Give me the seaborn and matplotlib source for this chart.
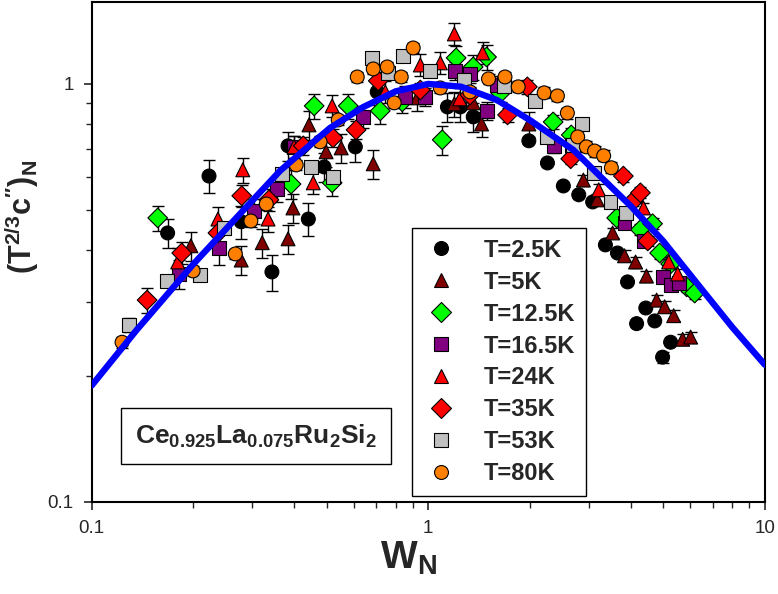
import numpy as np
import pandas as pd
import matplotlib
matplotlib.use("Agg")
import matplotlib.pyplot as plt
from matplotlib.lines import Line2D
from matplotlib.ticker import FixedLocator, FixedFormatter, LogLocator, NullFormatter
import seaborn as sns

# ---------------- data ----------------
labels = ["T=2.5K", "T=5K", "T=12.5K", "T=16.5K", "T=24K", "T=35K", "T=53K", "T=80K"]
colors = ["#000000", "#800000", "#00FF00", "#800080", "#FF0000", "#FF0000", "#C0C0C0", "#FF8000"]
markers = ["o", "^", "D", "s", "^", "D", "s", "o"]

w_2p5 = [0.168, 0.223, 0.278, 0.343, 0.383, 0.44, 0.49, 0.607, 0.705, 1.14, 1.245, 1.36, 1.99, 2.26,
         2.52, 2.80, 3.08, 3.36, 3.65, 3.91, 4.16, 4.43, 4.71, 4.97, 5.25]
v_2p5 = [0.44, 0.602, 0.468, 0.355, 0.711, 0.475, 0.633, 0.707, 0.957, 0.881, 0.881, 0.834, 0.731, 0.647,
         0.570, 0.543, 0.522, 0.412, 0.394, 0.336, 0.267, 0.291, 0.271, 0.222, 0.241]
e_2p5 = [0.08, 0.09, 0.09, 0.10, 0.08, 0.09, 0.08, 0.08, 0.07, 0.08, 0.08, 0.08, 0, 0,
         0, 0, 0, 0, 0, 0, 0, 0, 0, 0.03, 0]

w_5 = [0.197, 0.278, 0.321, 0.383, 0.396, 0.442, 0.497, 0.551, 0.686, 0.927, 1.195, 1.36, 1.44, 1.99,
       2.89, 3.18, 3.53, 3.83, 4.13, 4.45, 4.77, 5.04, 5.36, 5.70, 6.02]
v_5 = [0.41, 0.379, 0.417, 0.426, 0.505, 0.798, 0.688, 0.703, 0.644, 0.926, 0.896, 0.901, 0.802, 0.802,
       0.589, 0.528, 0.44, 0.388, 0.375, 0.347, 0.304, 0.293, 0.279, 0.245, 0.248]
e_5 = [0.08, 0.08, 0.08, 0.08, 0.08, 0.08, 0.08, 0.08, 0.08, 0.07, 0.07, 0.07, 0.07, 0.07,
       0.03, 0.03, 0.03, 0.03, 0.03, 0.03, 0.03, 0.03, 0.03, 0.03, 0.03]

w_12p5 = [0.157, 0.391, 0.458, 0.518, 0.578, 0.72, 0.837, 1.10, 1.21, 1.36, 1.49, 1.64, 2.35, 2.66,
          3.63, 4.27, 4.64, 4.87, 5.25, 5.86, 6.19]
v_12p5 = [0.478, 0.576, 0.886, 0.580, 0.886, 0.862, 0.906, 0.735, 1.154, 1.098, 1.16, 0.952, 0.811, 0.755,
          0.478, 0.448, 0.463, 0.394, 0.371, 0.327, 0.316]
e_12p5 = [0.07, 0.08, 0.07, 0.07, 0.07, 0.07, 0.06, 0.08, 0.07, 0.07, 0.07, 0.05, 0.04, 0.04,
          0.03, 0.03, 0.03, 0.03, 0.03, 0.03, 0.03]

w_16p5 = [0.182, 0.239, 0.303, 0.355, 0.399, 0.641, 0.854, 0.98, 1.20, 1.33, 1.49, 1.60, 2.37, 2.68,
          3.83, 4.36, 4.97, 5.25, 5.55]
v_16p5 = [0.351, 0.405, 0.497, 0.561, 0.707, 0.834, 0.931, 0.931, 1.074, 1.057, 0.862, 0.995, 0.711, 0.715,
          0.465, 0.421, 0.345, 0.330, 0.334]
e_16p5 = [0.08, 0.09, 0.07, 0.07, 0.06, 0.06, 0.06, 0.05, 0.05, 0.05, 0.05, 0.05, 0.04, 0.04,
          0.03, 0.03, 0.03, 0.03, 0.03]

w_24 = [0.180, 0.237, 0.281, 0.334, 0.399, 0.455, 0.518, 0.745, 0.947, 1.086, 1.195, 1.24, 1.45,
        3.21, 4.36, 5.18, 5.51]
v_24 = [0.375, 0.475, 0.623, 0.475, 0.707, 0.580, 0.886, 0.957, 1.11, 1.123, 1.317, 0.921, 1.186,
        0.558, 0.505, 0.375, 0.351]
e_24 = [0.08, 0.07, 0.07, 0.07, 0.06, 0.06, 0.06, 0.06, 0.06, 0.06, 0.06, 0.06, 0.06,
        0.03, 0.03, 0.03, 0.03]

w_35 = [0.146, 0.185, 0.237, 0.279, 0.336, 0.425, 0.521, 0.61, 0.71, 0.947, 1.33, 1.72, 1.97, 2.65,
        3.80, 4.07, 4.27, 4.49]
v_35 = [0.304, 0.394, 0.44, 0.54, 0.528, 0.711, 0.743, 0.776, 1.017, 0.967, 0.941, 0.843, 0.984, 0.662,
        0.602, 0.525, 0.549, 0.421]
e_35 = [0.07, 0.06, 0.06, 0.06, 0.06, 0.05, 0.05, 0.05, 0.05, 0.04, 0.04, 0.04, 0.04, 0.03,
        0.03, 0.03, 0.03, 0.03]

w_53 = [0.129, 0.167, 0.21, 0.247, 0.368, 0.449, 0.521, 0.681, 0.76, 0.843, 1.014, 1.28, 1.68, 2.07,
        2.26, 2.70, 2.87, 3.10, 3.48, 3.88]
v_53 = [0.265, 0.338, 0.349, 0.452, 0.609, 0.633, 0.599, 1.154, 1.063, 1.167, 1.074, 1.022, 0.989, 0.911,
        0.747, 0.715, 0.802, 0.612, 0.522, 0.491]
e_53 = [0.04, 0.03, 0.03, 0.03, 0.03, 0.03, 0.03, 0.03, 0.03, 0.03, 0.03, 0.03, 0.03, 0.03,
        0.03, 0.03, 0.03, 0.03, 0.03, 0.03]

w_80 = [0.123, 0.2, 0.267, 0.297, 0.33, 0.405, 0.477, 0.54, 0.615, 0.686, 0.755, 0.792, 0.831, 0.902,
        1.086, 1.33, 1.51, 1.69, 1.85, 2.21, 2.42, 2.59, 2.78, 2.95, 3.12, 3.32, 3.50]
v_80 = [0.241, 0.357, 0.392, 0.47, 0.516, 0.64, 0.727, 0.82, 1.039, 1.086, 1.098, 0.901, 1.039, 1.219,
        0.978, 0.957, 1.028, 1.039, 0.984, 0.952, 0.936, 0.852, 0.747, 0.707, 0.691, 0.673, 0.63]
e_80 = [0.03] * len(w_80)

# scaling curve
curve_w = [0.1, 0.136, 0.2, 0.27, 0.363, 0.45, 0.511, 0.64, 0.8, 1.0, 1.25, 1.6, 2.0, 2.7, 3.25,
           4.0, 5.0, 6.45, 8.0, 10.0]
curve_v = [0.19, 0.258, 0.37, 0.48, 0.62, 0.72, 0.785, 0.88, 0.96, 1.0, 0.985, 0.915, 0.82, 0.695, 0.60,
           0.51, 0.42, 0.325, 0.262, 0.213]

series_w = [w_2p5, w_5, w_12p5, w_16p5, w_24, w_35, w_53, w_80]
series_v = [v_2p5, v_5, v_12p5, v_16p5, v_24, v_35, v_53, v_80]
series_e = [e_2p5, e_5, e_12p5, e_16p5, e_24, e_35, e_53, e_80]

frames = []
for lab, w, v, e in zip(labels, series_w, series_v, series_e):
    frames.append(pd.DataFrame({"w": w, "v": v, "rel": e, "T": lab}))
df = pd.concat(frames, ignore_index=True)
df["err"] = df["v"] * df["rel"]

# ---------------- styling ----------------
sns.set_style("ticks")
plt.rcParams["font.family"] = ["Liberation Sans", "DejaVu Sans"]
plt.rcParams["mathtext.fontset"] = "custom"
plt.rcParams["mathtext.rm"] = "Liberation Sans"
plt.rcParams["mathtext.it"] = "Liberation Sans:italic"
plt.rcParams["mathtext.bf"] = "Liberation Sans:bold"

fig = plt.figure(figsize=(7.78, 5.94), dpi=100)
ax = fig.add_axes([0.118, 0.155, 0.865, 0.8416])

ax.set_xscale("log")
ax.set_yscale("log")

# error bars
for lab in labels:
    sub = df[df["T"] == lab]
    ax.errorbar(sub["w"], sub["v"], yerr=sub["err"], fmt="none", ecolor="black",
                elinewidth=1.0, capsize=4, capthick=1.0, zorder=1)

sns.scatterplot(data=df, x="w", y="v", hue="T", style="T", hue_order=labels, style_order=labels,
                palette=dict(zip(labels, colors)), markers=dict(zip(labels, markers)),
                s=100, edgecolor="black", linewidth=0.8, legend=False, ax=ax, zorder=2)

sns.lineplot(x=curve_w, y=curve_v, color="#0000FF", linewidth=4.6, ax=ax, zorder=3, sort=False)

ax.set_xlim(0.1, 10)
ax.set_ylim(0.1, 1.57)

ax.xaxis.set_major_locator(FixedLocator([0.1, 1, 10]))
ax.xaxis.set_major_formatter(FixedFormatter(["0.1", "1", "10"]))
ax.xaxis.set_minor_locator(LogLocator(base=10, subs=np.arange(2, 10)))
ax.xaxis.set_minor_formatter(NullFormatter())
ax.yaxis.set_major_locator(FixedLocator([0.1, 1]))
ax.yaxis.set_major_formatter(FixedFormatter(["0.1", "1"]))
ax.yaxis.set_minor_locator(LogLocator(base=10, subs=np.arange(2, 10)))
ax.yaxis.set_minor_formatter(NullFormatter())

ax.tick_params(which="major", direction="out", length=6, width=1.2, labelsize=13.5, pad=7)
ax.tick_params(which="minor", direction="out", length=4, width=1.0)
ax.tick_params(top=False, right=False)
for sp in ax.spines.values():
    sp.set_visible(True)
    sp.set_linewidth(1.5)
    sp.set_color("black")

ax.set_xlabel(r"$\mathbf{W_N}$", fontsize=28)
ax.xaxis.set_label_coords(0.47, -0.075)
ax.set_ylabel(r"$\mathbf{(T^{2/3}c'')_N}$", fontsize=22)
ax.yaxis.set_label_coords(-0.075, 0.57)

# legend
handles = [Line2D([0], [0], marker=m, linestyle="none", markerfacecolor=c, markeredgecolor="black",
                  markeredgewidth=0.8, markersize=10) for m, c in zip(markers, colors)]
leg = ax.legend(handles, labels, loc="upper left", bbox_to_anchor=(0.4755, 0.548), borderaxespad=0,
                frameon=True, fancybox=False, framealpha=1, edgecolor="black",
                prop={"weight": "bold", "size": 17}, labelspacing=0.38, handletextpad=1.0,
                borderpad=0.45, handlelength=1.6)
leg.get_frame().set_linewidth(1.0)

ax.text(0.244, 0.132, r"$\mathbf{Ce_{0.925}La_{0.075}Ru_2Si_2}$", transform=ax.transAxes,
        ha="center", va="center", fontsize=19,
        bbox=dict(boxstyle="square,pad=0.55", facecolor="white", edgecolor="black", linewidth=1.0))

fig.savefig("out.png", dpi=100)
